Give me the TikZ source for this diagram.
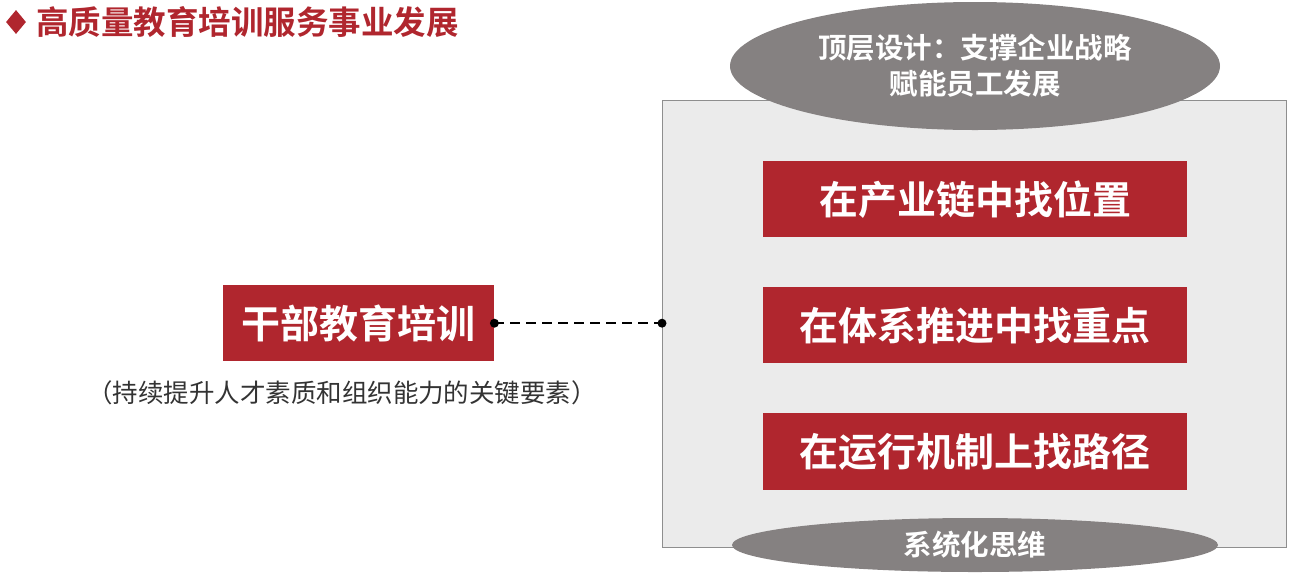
\documentclass[tikz,border=0pt]{standalone}
\usepackage{fontspec}
\newfontfamily\cjk{Noto Sans CJK SC}[BoldFont={Noto Sans CJK SC Bold}]
\usetikzlibrary{shapes.geometric}
\definecolor{cred}{HTML}{B0262E}
\definecolor{cgray}{HTML}{858181}
\definecolor{cpanel}{HTML}{EBEBEB}
\definecolor{cborder}{HTML}{8E8E8E}
\definecolor{ctext}{HTML}{333333}
\tikzset{
  redbox/.style={fill=cred, draw=none, text=white, font=\cjk\bfseries\fontsize{39}{44}\selectfont, inner sep=0pt, anchor=north west},
  ovalbox/.style={ellipse, fill=cgray, draw=none, text=white, inner sep=0pt, align=center},
  dotend/.style={circle, fill=black, inner sep=0pt, minimum size=9pt},
}
\begin{document}
\begin{tikzpicture}[x=1pt,y=-1pt]
\useasboundingbox (0,0) rectangle (1296,582);
% title
\node[diamond, fill=cred, inner sep=0pt, minimum width=20pt, minimum height=24pt] (dia) at (16,22) {};
\node[anchor=west, text=cred, font=\cjk\bfseries\fontsize{32.5}{34}\selectfont, inner sep=0pt] (title) at (36,22) {高质量教育培训服务事业发展};
% panel
\node[fill=cpanel, draw=cborder, line width=1.2pt, minimum width=624pt, minimum height=447pt, anchor=north west, inner sep=0pt] (panel) at (662,100) {};
% top oval
\node[ovalbox, minimum width=490pt, minimum height=128pt, font=\cjk\bfseries\fontsize{28.5}{36}\selectfont] (top) at (975,66) {顶层设计：支撑企业战略\\赋能员工发展};
% bottom oval
\node[ovalbox, minimum width=486pt, minimum height=54pt, font=\cjk\bfseries\fontsize{28.5}{32}\selectfont] (bot) at (975,545) {系统化思维};
% red boxes
\node[redbox, minimum width=424pt, minimum height=76pt] (b1) at (763,161) {在产业链中找位置};
\node[redbox, minimum width=424pt, minimum height=76pt] (b2) at (763,287) {在体系推进中找重点};
\node[redbox, minimum width=424pt, minimum height=77pt] (b3) at (763,413) {在运行机制上找路径};
% left box
\node[redbox, minimum width=271pt, minimum height=76pt] (left) at (223,285) {干部教育培训};
\node[text=ctext, font=\cjk\fontsize{25.5}{28}\selectfont, inner sep=0pt] (sub) at (342,393) {（持续提升人才素质和组织能力的关键要素）};
% connector
\coordinate (pl) at (panel.west |- left.east);
\node[dotend] (d1) at (left.east) {};
\node[dotend] (d2) at (pl) {};
\draw[dash pattern=on 10pt off 6pt, line width=1.5pt] (d1.center) -- (d2.center);
\end{tikzpicture}
\end{document}
